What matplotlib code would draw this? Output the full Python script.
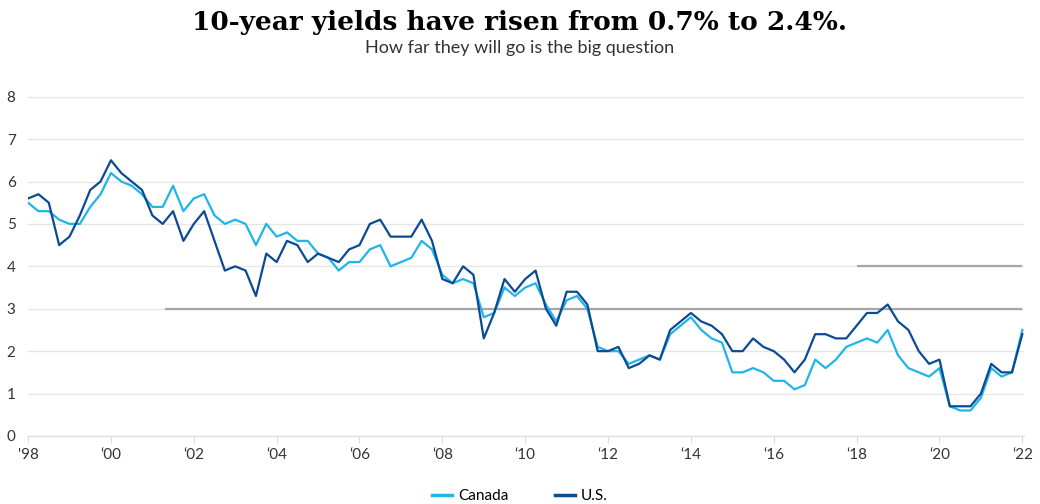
import numpy as np
import matplotlib.pyplot as plt
from matplotlib.lines import Line2D

plt.rcParams['font.family'] = ['Lato', 'DejaVu Sans']

# quarterly readings, 1998.0 .. 2022.0
dates = np.arange(1998.0, 2022.01, 0.25)
us = [5.6, 5.7, 5.5, 4.5, 4.7, 5.2, 5.8, 6.0, 6.5, 6.2, 6.0, 5.8,
      5.2, 5.0, 5.3, 4.6, 5.0, 5.3, 4.6, 3.9, 4.0, 3.9, 3.3, 4.3,
      4.1, 4.6, 4.5, 4.1, 4.3, 4.2, 4.1, 4.4, 4.5, 5.0, 5.1, 4.7,
      4.7, 4.7, 5.1, 4.6, 3.7, 3.6, 4.0, 3.8, 2.3, 2.9, 3.7, 3.4,
      3.7, 3.9, 3.0, 2.6, 3.4, 3.4, 3.1, 2.0, 2.0, 2.1, 1.6, 1.7,
      1.9, 1.8, 2.5, 2.7, 2.9, 2.7, 2.6, 2.4, 2.0, 2.0, 2.3, 2.1,
      2.0, 1.8, 1.5, 1.8, 2.4, 2.4, 2.3, 2.3, 2.6, 2.9, 2.9, 3.1,
      2.7, 2.5, 2.0, 1.7, 1.8, 0.7, 0.7, 0.7, 1.0, 1.7, 1.5, 1.5, 2.4]
canada = [5.5, 5.3, 5.3, 5.1, 5.0, 5.0, 5.4, 5.7, 6.2, 6.0, 5.9, 5.7,
          5.4, 5.4, 5.9, 5.3, 5.6, 5.7, 5.2, 5.0, 5.1, 5.0, 4.5, 5.0,
          4.7, 4.8, 4.6, 4.6, 4.3, 4.2, 3.9, 4.1, 4.1, 4.4, 4.5, 4.0,
          4.1, 4.2, 4.6, 4.4, 3.8, 3.6, 3.7, 3.6, 2.8, 2.9, 3.5, 3.3,
          3.5, 3.6, 3.1, 2.7, 3.2, 3.3, 3.0, 2.1, 2.0, 2.0, 1.7, 1.8,
          1.9, 1.8, 2.4, 2.6, 2.8, 2.5, 2.3, 2.2, 1.5, 1.5, 1.6, 1.5,
          1.3, 1.3, 1.1, 1.2, 1.8, 1.6, 1.8, 2.1, 2.2, 2.3, 2.2, 2.5,
          1.9, 1.6, 1.5, 1.4, 1.6, 0.7, 0.6, 0.6, 0.9, 1.6, 1.4, 1.5, 2.5]
ref_lines = [(2001.3, 3), (2018.0, 4)]
tick_years = list(range(1998, 2023, 2))
tick_labels = ["'98"] + ["\u2018%02d" % (y % 100) for y in tick_years[1:]]

fig = plt.figure(figsize=(10.4, 5.04), dpi=100)
ax = fig.add_axes([0.027, 0.135, 0.958, 0.69])

for start, level in ref_lines:
    ax.hlines(level, start, 2022.0, color='#a6a6a6', lw=1.6, zorder=2)
ax.plot(dates, canada, color='#1fb5ea', lw=1.6, zorder=3)
ax.plot(dates, us, color='#0b4a94', lw=1.6, zorder=4)

ax.set_xlim(1998, 2022.05)
ax.set_ylim(0, 8.2)
ax.set_yticks(range(0, 9))
ax.set_xticks(tick_years)
ax.set_xticklabels(tick_labels)
ax.grid(axis='y', color='#e6e6e6', lw=1)
ax.set_axisbelow(True)
for s in ['top', 'right', 'left']:
    ax.spines[s].set_visible(False)
ax.spines['bottom'].set_color('#dddddd')
ax.tick_params(axis='y', length=0, labelsize=11, colors='#333333', pad=-4)
ax.tick_params(axis='x', length=5, color='#dddddd', labelsize=11, colors='#333333')
for lbl in ax.get_yticklabels():
    lbl.set_horizontalalignment('left')
    lbl.set_x(-0.027)

fig.text(0.5, 0.955, "10-year yields have risen from 0.7% to 2.4%.", ha='center',
         va='center', fontsize=19, fontweight='bold', family=['DejaVu Serif'])
fig.text(0.5, 0.905, "How far they will go is the big question", ha='center',
         va='center', fontsize=13, color='#333333')

handles = [Line2D([], [], color='#1fb5ea', lw=2.5),
           Line2D([], [], color='#0b4a94', lw=2.5)]
fig.legend(handles, ['Canada', 'U.S.'], loc='lower center', ncol=2, frameon=False,
           bbox_to_anchor=(0.5, -0.025), fontsize=11, handlelength=1.3,
           columnspacing=3, handletextpad=0.4)

fig.savefig('out.png', dpi=100)
